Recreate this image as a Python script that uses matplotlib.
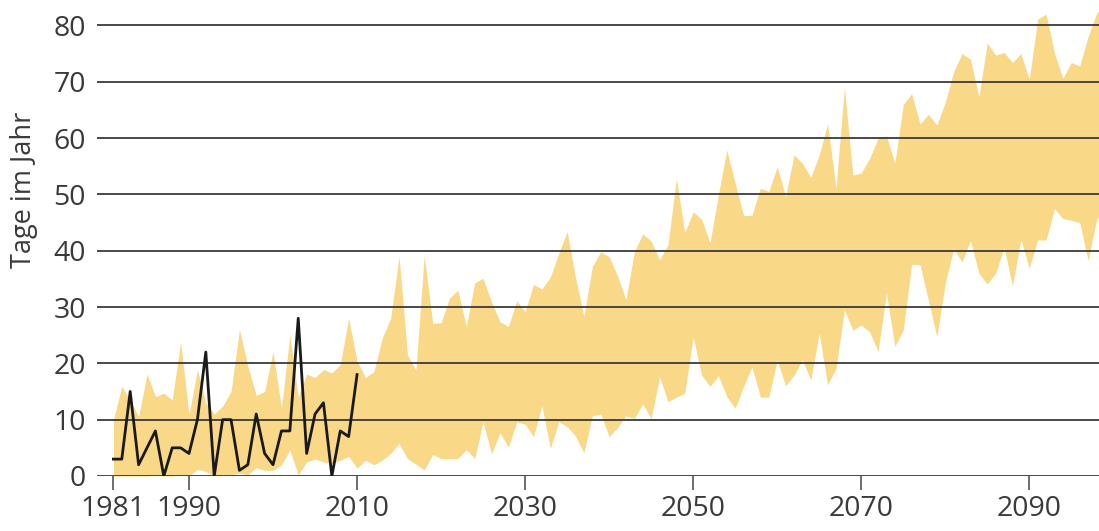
import numpy as np
import matplotlib
matplotlib.use("Agg")
import matplotlib.pyplot as plt

plt.rcParams['font.family'] = ['Open Sans', 'DejaVu Sans']

years = np.arange(1981, 2100)

# Bandbreite der Szenarien (obere und untere Grenze), 1981-2099
band_upper = [
    10, 15.9, 13.5, 10.5, 18.1, 14.1, 14.7, 13.5, 23.8, 10.8,
    18.9, 13, 11, 12.4, 15, 26, 19.5, 14.3, 15, 22.1,
    12, 25, 14, 18.1, 17.5, 18.9, 18.3, 19.8, 28, 20.4,
    17.5, 18.5, 24.5, 28, 39, 21.5, 18.8, 39.2, 27.1, 27.2,
    31.6, 33, 26.5, 34.3, 35.1, 30.9, 27.4, 26.5, 31.1, 29.2,
    34, 33.2, 35.3, 39.5, 43.4, 35.2, 28.3, 37.2, 39.8, 38.9,
    35.5, 31.3, 39.8, 43, 41.7, 38.4, 41, 52.8, 43.2, 46.9,
    45.6, 41.4, 49.9, 57.9, 52, 46.2, 46.3, 51.1, 50.5, 54.9,
    49.6, 57, 55.5, 53, 57, 62.5, 51.1, 69, 53.4, 53.8,
    56.4, 59.9, 60.4, 55.5, 65.9, 67.9, 62.5, 64.2, 62.3, 66.3,
    71.8, 75, 74, 67.3, 76.9, 74.7, 75.2, 73.4, 75, 70.4,
    81.1, 82, 75.1, 70.6, 73.4, 72.8, 78, 82.1, 84,
]
band_lower = [
    0, 0, 0, 0, 0, 0.2, 0, 0, 0.2, 0,
    1.2, 0.8, 0, 0.3, 0.2, 0.5, 0.2, 1.5, 1, 1,
    2, 4.6, 0.2, 2.5, 3, 2.5, 2.2, 2.8, 3.5, 1.4,
    2.8, 2, 2.8, 4, 5.8, 3.1, 2.1, 1.1, 3.8, 3.1,
    3.1, 3.1, 4.7, 3.1, 9.6, 3.9, 7.7, 5.1, 9.6, 9.2,
    7, 12.5, 4.9, 9.6, 8.8, 7.1, 4.1, 10.7, 11, 7,
    8.6, 10.7, 10.2, 12.8, 10.2, 17.6, 13.2, 14, 14.7, 24.7,
    17.9, 15.9, 17.8, 14.1, 12, 15.9, 19.4, 14, 14, 20.6,
    16, 17.9, 20.6, 17, 25.3, 16.2, 19.1, 29.5, 25.9, 26.8,
    25.6, 22.1, 32.5, 23, 25.9, 37.6, 37.5, 31.2, 24.7, 34.2,
    40.4, 38, 41.8, 36, 34.1, 36, 40.6, 33.7, 42, 36.9,
    41.9, 41.9, 47.5, 45.7, 45.4, 45, 38.3, 45.4, 48,
]

# Beobachtungen 1981-2010
obs_years = np.arange(1981, 2011)
obs_values = [3, 3, 15, 2, 5, 8, 0, 5, 5, 4,
              10, 22, 0, 10, 10, 1, 2, 11, 4, 2,
              8, 8, 28, 4, 11, 13, 0, 8, 7, 18]

xticks = [1981, 1990, 2010, 2030, 2050, 2070, 2090]
yticks = [0, 10, 20, 30, 40, 50, 60, 70, 80]

fig = plt.figure(figsize=(10.99, 5.31), dpi=100)
ax = fig.add_axes([97 / 1099, 55 / 531, 1002 / 1099, 476 / 531])

ax.fill_between(years, band_lower, band_upper, color='#f9d888', lw=0, zorder=1)
ax.plot(obs_years, obs_values, color='#1a1a1a', lw=2, zorder=3)

ax.set_xlim(1979.05, 2098.3)
ax.set_ylim(0, 84.5)
ax.set_xticks(xticks)
ax.set_yticks(yticks)

ax.set_axisbelow(False)
ax.yaxis.grid(True, color='#3a3a3a', lw=1.3)
for s in ax.spines.values():
    s.set_visible(False)

ax.tick_params(axis='y', length=0, pad=8, labelsize=20.5, labelcolor='#3a3a3a')
ax.tick_params(axis='x', length=10, width=1.2, color='#555555', pad=4,
               labelsize=20.5, labelcolor='#3a3a3a')

fig.text(24 / 1099, 1 - 190 / 531, 'Tage im Jahr', rotation=90,
         ha='center', va='center', fontsize=19.5, color='#3a3a3a')

fig.savefig('out.png', dpi=100)
